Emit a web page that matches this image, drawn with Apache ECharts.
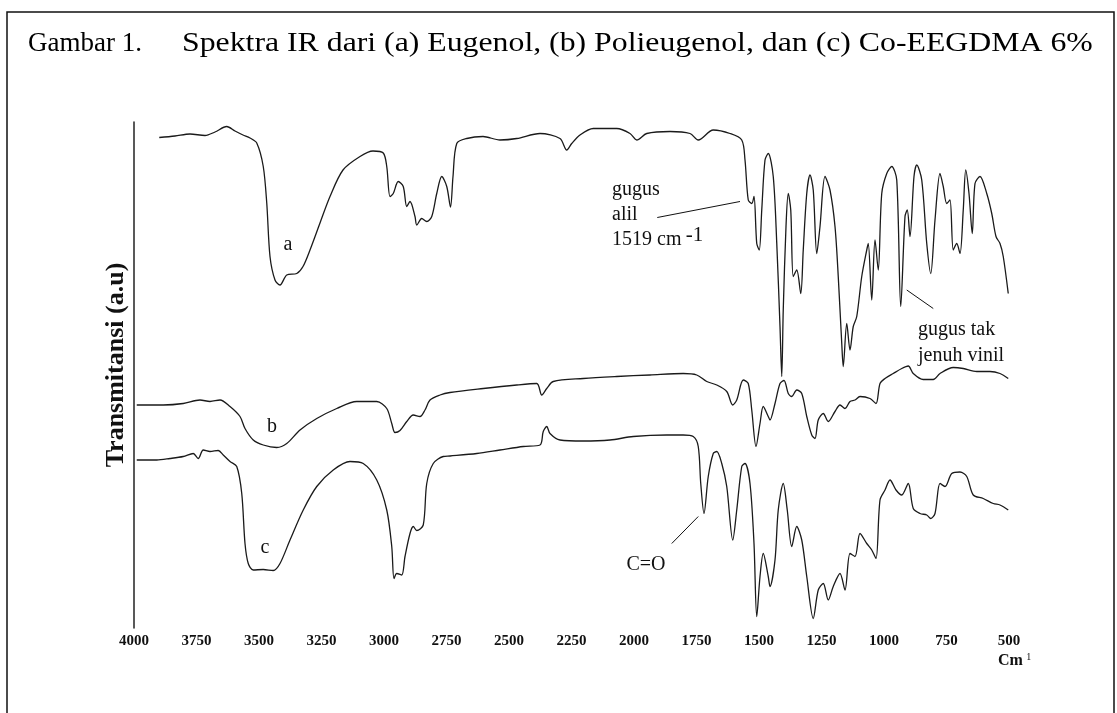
<!DOCTYPE html>
<html>
<head>
<meta charset="utf-8">
<script src="https://cdn.jsdelivr.net/npm/echarts@6/dist/echarts.min.js"></script>
<style>
  html, body { margin: 0; padding: 0; background: #fff; }
  #chart { width: 1117px; height: 713px; }
</style>
</head>
<body>
<div id="chart"></div>
<script>
// bilangan gelombang (cm-1) dan transmitansi (a.u)
const waveA = [3899, 3836, 3776, 3716, 3676, 3629, 3596, 3564, 3536, 3509, 3483, 3469, 3456, 3436, 3416, 3389, 3349, 3324, 3296, 3256, 3216, 3164, 3096, 3044, 3003, 2989, 2976, 2963, 2943, 2923, 2909, 2896, 2876, 2869, 2849, 2829, 2809, 2789, 2769, 2749, 2734, 2724, 2709, 2669, 2604, 2536, 2469, 2376, 2296, 2269, 2249, 2216, 2163, 2069, 2016, 1989, 1949, 1856, 1776, 1743, 1683, 1616, 1569, 1556, 1543, 1529, 1520, 1509, 1499, 1489, 1476, 1463, 1443, 1429, 1416, 1409, 1403, 1392, 1383, 1373, 1363, 1349, 1333, 1323, 1309, 1296, 1283, 1269, 1256, 1236, 1216, 1196, 1183, 1169, 1163, 1149, 1136, 1123, 1109, 1089, 1069, 1063, 1049, 1036, 1023, 1009, 989, 969, 949, 933, 916, 907, 896, 880, 869, 849, 829, 813, 796, 776, 763, 749, 736, 723, 709, 696, 683, 673, 660, 647, 636, 616, 589, 569, 552, 536, 523, 503]
const transA = [98.1, 98.4, 98.8, 98.5, 99.2, 100.3, 99.4, 98.6, 98.0, 97.0, 92.3, 85.0, 74.3, 69.6, 68.6, 70.6, 70.9, 72.3, 75.6, 81.0, 86.3, 91.6, 94.3, 95.4, 95.0, 92.3, 86.3, 86.9, 89.3, 88.3, 84.3, 85.3, 82.3, 80.6, 81.9, 81.3, 82.3, 86.9, 90.3, 88.3, 84.2, 90.3, 96.9, 97.9, 98.3, 97.6, 97.9, 98.9, 97.9, 95.6, 96.9, 98.6, 99.9, 99.9, 98.9, 97.6, 98.9, 99.3, 98.9, 97.6, 99.6, 98.9, 97.6, 93.6, 85.6, 84.9, 86.3, 76.9, 75.6, 83.6, 93.6, 94.9, 90.3, 77.0, 60.3, 50.3, 63.6, 80.3, 86.9, 83.6, 70.3, 71.6, 66.9, 75.6, 86.9, 90.6, 87.6, 74.9, 80.3, 90.3, 87.6, 80.3, 70.3, 56.9, 52.3, 60.9, 55.6, 60.3, 62.3, 70.3, 75.6, 76.9, 65.6, 77.6, 71.6, 86.9, 90.9, 92.3, 89.6, 64.3, 82.3, 83.6, 78.3, 90.3, 92.6, 89.6, 76.9, 70.9, 81.6, 90.9, 88.3, 84.9, 85.6, 75.6, 76.9, 74.9, 83.6, 91.6, 86.9, 78.9, 88.9, 90.3, 86.9, 82.9, 78.3, 76.9, 74.3, 66.9]

const waveB = [3989, 3883, 3803, 3736, 3696, 3656, 3616, 3576, 3556, 3523, 3483, 3429, 3389, 3336, 3269, 3189, 3109, 3029, 2989, 2969, 2956, 2936, 2909, 2883, 2856, 2836, 2816, 2776, 2736, 2603, 2469, 2389, 2369, 2349, 2323, 2203, 2069, 1936, 1803, 1749, 1709, 1669, 1629, 1605, 1589, 1563, 1543, 1529, 1512, 1496, 1483, 1463, 1456, 1436, 1416, 1400, 1383, 1369, 1349, 1329, 1309, 1289, 1276, 1263, 1243, 1223, 1196, 1176, 1156, 1136, 1116, 1096, 1056, 1032, 1016, 996, 963, 929, 903, 883, 843, 803, 776, 723, 683, 629, 576, 536, 503]
const transB = [44.6, 44.6, 44.9, 45.6, 45.3, 45.6, 44.3, 42.3, 39.9, 37.6, 36.6, 36.1, 36.9, 39.6, 41.9, 43.9, 45.3, 45.3, 43.9, 40.9, 39.1, 39.5, 41.3, 42.6, 42.3, 43.6, 45.6, 46.6, 47.1, 47.9, 48.6, 48.9, 46.6, 47.9, 49.3, 49.9, 50.3, 50.6, 50.9, 50.6, 49.3, 48.6, 47.3, 44.6, 45.6, 49.6, 48.9, 43.6, 36.3, 40.9, 44.3, 42.3, 41.6, 44.9, 48.9, 49.5, 46.9, 46.3, 47.6, 46.9, 42.3, 38.6, 37.9, 41.6, 42.9, 41.3, 43.3, 44.6, 43.9, 45.3, 45.6, 46.3, 45.9, 44.9, 48.9, 49.9, 50.9, 51.9, 52.4, 50.9, 49.7, 49.7, 50.9, 52.1, 51.9, 51.3, 51.3, 50.9, 49.9]

const waveC = [3989, 3909, 3856, 3803, 3763, 3743, 3723, 3696, 3663, 3643, 3616, 3589, 3569, 3556, 3543, 3523, 3483, 3443, 3416, 3376, 3323, 3269, 3203, 3136, 3083, 3029, 2989, 2969, 2960, 2949, 2929, 2916, 2896, 2883, 2869, 2843, 2829, 2803, 2763, 2736, 2629, 2536, 2443, 2376, 2363, 2349, 2336, 2296, 2203, 2096, 2003, 1869, 1803, 1763, 1743, 1733, 1720, 1703, 1683, 1669, 1649, 1629, 1605, 1589, 1569, 1556, 1536, 1520, 1509, 1496, 1483, 1463, 1456, 1436, 1423, 1403, 1387, 1369, 1349, 1329, 1309, 1283, 1263, 1243, 1223, 1203, 1176, 1156, 1136, 1116, 1096, 1069, 1049, 1032, 1016, 996, 976, 952, 929, 903, 883, 856, 829, 813, 796, 776, 756, 729, 696, 669, 643, 603, 563, 536, 503]
const transC = [33.6, 33.6, 33.9, 34.3, 34.9, 33.9, 35.6, 35.3, 35.5, 34.6, 33.3, 32.3, 26.9, 16.9, 12.9, 11.6, 11.7, 11.5, 12.9, 17.6, 23.6, 28.3, 31.6, 33.3, 32.9, 29.6, 23.6, 16.3, 9.9, 10.9, 10.6, 14.3, 18.9, 20.3, 19.5, 20.6, 28.9, 32.9, 34.3, 34.4, 34.9, 35.6, 36.3, 36.6, 39.3, 40.3, 38.9, 37.6, 37.4, 37.6, 38.3, 38.6, 38.6, 38.3, 36.3, 28.9, 22.9, 30.3, 34.9, 35.3, 32.9, 28.3, 17.6, 23.6, 32.3, 32.9, 28.9, 16.9, 2.3, 10.3, 14.9, 10.3, 8.3, 13.6, 23.6, 28.9, 23.6, 16.3, 20.3, 17.6, 10.3, 1.9, 7.6, 8.9, 5.6, 8.3, 10.9, 7.6, 14.9, 14.3, 18.9, 16.9, 15.6, 13.9, 25.6, 27.6, 29.6, 27.6, 26.6, 28.9, 23.9, 22.9, 22.6, 21.9, 22.9, 28.9, 28.3, 30.9, 31.2, 30.3, 26.6, 25.9, 24.9, 24.6, 23.6]

const tickLabels = [4000, 3750, 3500, 3250, 3000, 2750, 2500, 2250, 2000, 1750, 1500, 1250, 1000, 750, 500]

// label huruf kurva dan keterangan gugus (koordinat data)
const curveLabels = [
  { name: 'a', coord: [3384, 76.6] },
  { name: 'b', coord: [3448, 40.2] },
  { name: 'c', coord: [3476, 16.0] }
]
const leaderLines = [
  [[1907, 82.1], [1576, 85.3]],
  [[1849, 16.9], [1743, 22.3]],
  [[909, 67.6], [803, 63.9]]
]

const serif = '"Liberation Serif", "Times New Roman", serif'
const chart = echarts.init(document.getElementById('chart'))

const toPairs = (xs, ys) => xs.map((x, i) => [x, ys[i]])

const lineSeries = (name, xs, ys) => ({
  name: name,
  type: 'line',
  data: toPairs(xs, ys),
  showSymbol: false,
  smooth: 0.3,
  silent: true,
  lineStyle: { color: '#1a1a1a', width: 1.3 },
  z: 3
})

const seriesA = lineSeries('a', waveA, transA)
seriesA.markPoint = {
  symbol: 'circle',
  symbolSize: 1,
  itemStyle: { color: 'rgba(0,0,0,0)' },
  label: { show: true, position: 'inside', fontFamily: serif, fontSize: 20, color: '#111' },
  data: [
    { coord: curveLabels[0].coord, label: { formatter: curveLabels[0].name } },
    { coord: curveLabels[1].coord, label: { formatter: curveLabels[1].name } },
    { coord: curveLabels[2].coord, label: { formatter: curveLabels[2].name } },
    { coord: [2088, 82.6], label: { align: 'left', lineHeight: 25, formatter: 'gugus\nalil\n1519 cm' } },
    // pangkat -1 di belakang "cm"
    { coord: [1758, 78.6], label: { fontSize: 21, formatter: '-1' } },
    { coord: [1952, 12.6], label: { formatter: 'C=O' } },
    { coord: [864, 57.0], label: { align: 'left', lineHeight: 26, formatter: 'gugus tak\njenuh vinil' } }
  ]
}
seriesA.markLine = {
  symbol: 'none',
  silent: true,
  label: { show: false },
  lineStyle: { color: '#111', width: 1, type: 'solid' },
  data: leaderLines.map(l => [{ coord: l[0] }, { coord: l[1] }])
}

const options = {
  animation: false,
  backgroundColor: '#fff',
  title: [
    { text: 'Gambar 1.', left: 23, top: 25, textStyle: { fontFamily: serif, fontSize: 27, fontWeight: 'normal', color: '#000' } }
  ],
  graphic: [
    { type: 'rect', shape: { x: 7, y: 12, width: 1107, height: 720 }, style: { fill: 'none', stroke: '#111', lineWidth: 1.5 }, silent: true },
    {
      type: 'text',
      x: 182,
      y: 30,
      scaleX: 1.177,
      silent: true,
      style: {
        text: 'Spektra IR dari (a) Eugenol, (b) Polieugenol, dan (c) Co-EEGDMA 6%',
        font: '27px "Liberation Serif", "Times New Roman", serif',
        fill: '#000',
        verticalAlign: 'top'
      }
    }
  ],
  grid: { left: 134, width: 875, top: 122, height: 506 },
  xAxis: {
    type: 'value',
    min: 500,
    max: 4000,
    interval: 250,
    inverse: true,
    axisLine: { show: false },
    axisTick: { show: false },
    splitLine: { show: false },
    axisLabel: {
      margin: 6,
      fontFamily: serif,
      fontWeight: 'bold',
      fontSize: 15,
      color: '#111',
      formatter: v => (tickLabels.includes(v) ? String(v) : '')
    },
    name: '{m|Cm} {s|1}',
    nameLocation: 'start',
    nameGap: -11,
    nameTextStyle: {
      verticalAlign: 'top',
      padding: [24, 0, 0, 0],
      rich: {
        m: { fontFamily: serif, fontWeight: 'bold', fontSize: 16, color: '#111' },
        s: { fontFamily: serif, fontSize: 10, color: '#111', verticalAlign: 'top', padding: [0, 0, 8, 0] }
      }
    }
  },
  yAxis: {
    type: 'value',
    min: 0,
    max: 101.2,
    axisLine: { show: true, lineStyle: { color: '#222', width: 1.5 } },
    axisTick: { show: false },
    axisLabel: { show: false },
    splitLine: { show: false },
    name: 'Transmitansi (a.u)',
    nameLocation: 'middle',
    nameGap: 5,
    nameTextStyle: { fontFamily: serif, fontWeight: 'bold', fontSize: 26, color: '#111', padding: [0, 0, 0, 20] }
  },
  series: [
    seriesA,
    lineSeries('b', waveB, transB),
    lineSeries('c', waveC, transC)
  ]
}

chart.setOption(options)
</script>
</body>
</html>
